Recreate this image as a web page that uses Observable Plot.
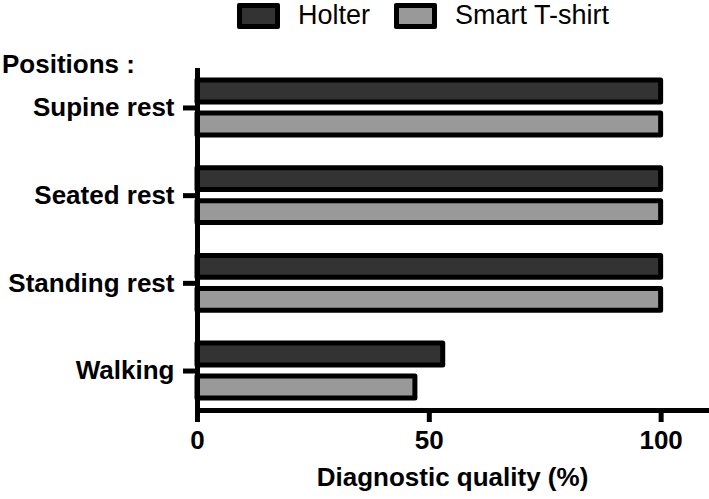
<!DOCTYPE html>
<html>
<head>
<meta charset="utf-8">
<script src="https://cdn.jsdelivr.net/npm/d3@7"></script>
<script src="https://cdn.jsdelivr.net/npm/@observablehq/plot@0.6"></script>
<style>
  html, body { margin: 0; padding: 0; background: white; }
  body { width: 709px; height: 499px; position: relative; overflow: hidden;
         font-family: "Liberation Sans", Arial, Helvetica, sans-serif; color: black; }
  #legend { position: relative; height: 40px; }
  .sw { position: absolute; top: 3px; width: 43px; height: 26px; box-sizing: border-box;
        border: 5px solid black; border-radius: 2px; }
  .lt { position: absolute; top: 0px; font-size: 27px; line-height: 31px; }
  #ptitle { position: absolute; left: 2px; top: 51px; font-size: 26px; font-weight: bold; line-height: 26px; z-index: 2; }
  #chart { position: absolute; left: 0; top: 40px; }
</style>
</head>
<body>
<div id="legend"></div>
<div id="ptitle">Positions :</div>
<div id="chart"></div>
<script>
const positions = ["Supine rest", "Seated rest", "Standing rest", "Walking"];
const holter = [100, 100, 100, 53];
const tshirt = [100, 100, 100, 47];
const seriesNames = ["Holter", "Smart T-shirt"];
const seriesColors = ["#333333", "#999999"];
const xTicks = [0, 50, 100];
const xLabel = "Diagnostic quality (%)";

// legend (HTML)
const legend = document.getElementById("legend");
const legendLayout = [{sw: 237, tx: 298}, {sw: 394, tx: 455}];
seriesNames.forEach((name, i) => {
  const s = document.createElement("div");
  s.className = "sw";
  s.style.left = legendLayout[i].sw + "px";
  s.style.background = seriesColors[i];
  legend.appendChild(s);
  const t = document.createElement("div");
  t.className = "lt";
  t.style.left = legendLayout[i].tx + "px";
  t.textContent = name;
  legend.appendChild(t);
});

const holterData = positions.map((p, i) => ({position: p, value: holter[i]}));
const tshirtData = positions.map((p, i) => ({position: p, value: tshirt[i]}));

const font = "'Liberation Sans', Arial, Helvetica, sans-serif";

const chart = Plot.plot({
  width: 709,
  height: 459,
  marginLeft: 197,
  marginRight: 2,
  marginTop: 28,
  marginBottom: 89,
  style: {fontFamily: font, fontSize: "26px", color: "black", background: "white", overflow: "visible"},
  x: {domain: [0, 110]},
  y: {domain: positions, paddingInner: 0.1, paddingOuter: 0, round: false},
  marks: [
    Plot.barX(holterData, {x: "value", y: "position", fill: seriesColors[0], stroke: "black",
      strokeWidth: 5, strokeLinejoin: "round", insetTop: 12, insetBottom: 45}),
    Plot.barX(tshirtData, {x: "value", y: "position", fill: seriesColors[1], stroke: "black",
      strokeWidth: 5, strokeLinejoin: "round", insetTop: 45, insetBottom: 12}),
    Plot.ruleX([0], {stroke: "black", strokeWidth: 5}),
    Plot.frame({anchor: "bottom", stroke: "black", strokeWidth: 5}),
    Plot.axisX({ticks: xTicks, tickFormat: d => String(d), tickSize: 12, tickPadding: 8,
      strokeWidth: 5, fontSize: 26, fontWeight: "bold", fill: "black",
      label: xLabel, labelAnchor: "center", labelArrow: false, labelOffset: 75}),
    Plot.axisY({tickSize: 14, tickPadding: 9, strokeWidth: 5, fontSize: 26, fontWeight: "bold",
      fill: "black", label: null})
  ]
});
document.getElementById("chart").appendChild(chart);
</script>
</body>
</html>
